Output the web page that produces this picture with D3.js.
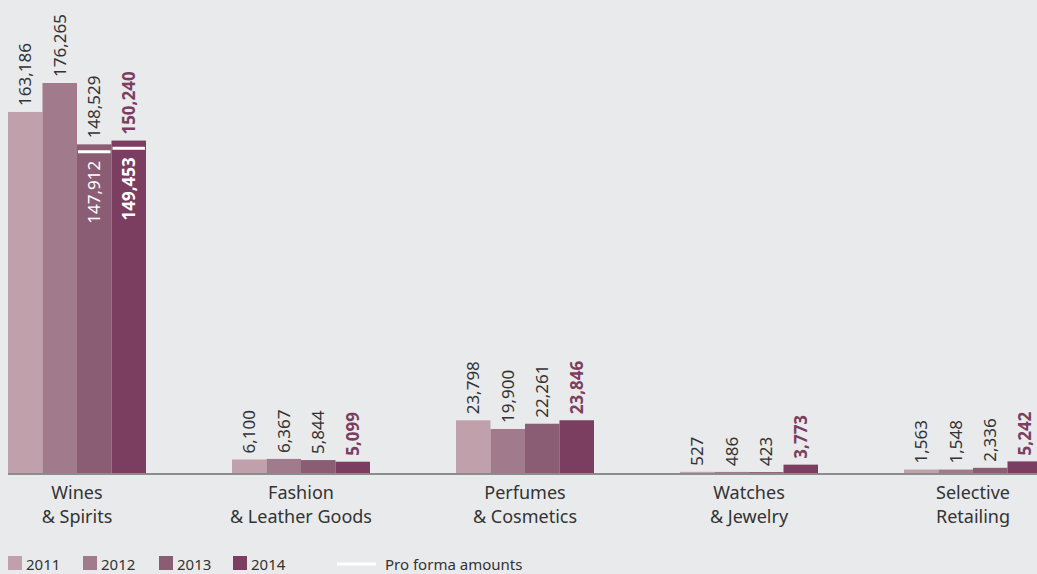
<!DOCTYPE html>
<html>
<head>
<meta charset="utf-8">
<script src="https://cdn.jsdelivr.net/npm/d3@7"></script>
<style>
  html, body { margin: 0; padding: 0; background: #e9eaec; }
  svg { display: block; font-family: 'Noto Sans', sans-serif; }
</style>
</head>
<body>
<div id="chart"></div>
<script>
'use strict';

var categories = [['Wines', '& Spirits'], ['Fashion', '& Leather Goods'], ['Perfumes', '& Cosmetics'], ['Watches', '& Jewelry'], ['Selective', 'Retailing']];
var years = ['2011', '2012', '2013', '2014'];
var values2011 = [163186, 6100, 23798, 527, 1563];
var values2012 = [176265, 6367, 19900, 486, 1548];
var values2013 = [148529, 5844, 22261, 423, 2336];
var values2014 = [150240, 5099, 23846, 3773, 5242];
var proForma2013 = [147912, null, null, null, null];
var proForma2014 = [149453, null, null, null, null];
var colors = ['#c0a0ab', '#a17b8b', '#8b5d75', '#7b3d60'];

var width = 1037, height = 574;
var base = 473;

var series = [values2011, values2012, values2013, values2014];
var proForma = [null, null, proForma2013, proForma2014];

var rows = [];
categories.forEach(function(c, i) {
  years.forEach(function(yr, j) {
    rows.push({cat: i, year: yr, k: j, v: series[j][i], pf: proForma[j] ? proForma[j][i] : null});
  });
});

var svg = d3.select('#chart').append('svg')
  .attr('width', width).attr('height', height);

var x0 = d3.scaleBand().domain(d3.range(categories.length))
  .range([8, 1042]).paddingInner(0.384).paddingOuter(0);
var x1 = d3.scaleBand().domain(years).range([0, x0.bandwidth()]);
var y = d3.scaleLinear().domain([0, 176265]).range([base, 83]);
var fmt = d3.format(',');

// baseline
svg.append('line')
  .attr('x1', 8).attr('x2', width)
  .attr('y1', base + 1).attr('y2', base + 1)
  .attr('stroke', '#8c8c8c').attr('stroke-width', 2);

var g = svg.append('g');

g.selectAll('rect.bar').data(rows).enter().append('rect')
  .attr('class', 'bar')
  .attr('x', function(d) { return x0(d.cat) + x1(d.year); })
  .attr('width', x1.bandwidth())
  .attr('y', function(d) { return y(d.v); })
  .attr('height', function(d) { return base - y(d.v); })
  .attr('fill', function(d) { return colors[d.k]; });

// value labels above bars
g.selectAll('text.val').data(rows).enter().append('text')
  .attr('class', 'val')
  .attr('transform', function(d) {
    return 'translate(' + (x0(d.cat) + x1(d.year) + x1.bandwidth() / 2) + ',' + (y(d.v) - 6) + ') rotate(-90)';
  })
  .attr('dy', '0.35em')
  .attr('font-size', 17)
  .attr('font-weight', function(d) { return d.k === 3 ? 700 : 400; })
  .attr('fill', function(d) { return d.k === 3 ? colors[3] : '#333'; })
  .text(function(d) { return fmt(d.v); });

// pro forma markers
var pf = rows.filter(function(d) { return d.pf; });
g.selectAll('line.pf').data(pf).enter().append('line')
  .attr('class', 'pf')
  .attr('x1', function(d) { return x0(d.cat) + x1(d.year) + 1; })
  .attr('x2', function(d) { return x0(d.cat) + x1(d.year) + x1.bandwidth() - 1; })
  .attr('y1', function(d) { return y(d.pf) + 6; })
  .attr('y2', function(d) { return y(d.pf) + 6; })
  .attr('stroke', '#fff').attr('stroke-width', 3);

g.selectAll('text.pf').data(pf).enter().append('text')
  .attr('class', 'pf')
  .attr('transform', function(d) {
    return 'translate(' + (x0(d.cat) + x1(d.year) + x1.bandwidth() / 2) + ',' + (y(d.pf) + 15) + ') rotate(-90)';
  })
  .attr('dy', '0.35em')
  .attr('text-anchor', 'end')
  .attr('font-size', 17)
  .attr('font-weight', function(d) { return d.k === 3 ? 700 : 400; })
  .attr('fill', '#fff')
  .text(function(d) { return fmt(d.pf); });

// category labels
var cl = svg.selectAll('text.cat').data(categories).enter().append('text')
  .attr('class', 'cat')
  .attr('text-anchor', 'middle')
  .attr('font-size', 18)
  .attr('fill', '#333');
cl.append('tspan')
  .attr('x', function(d, i) { return x0(i) + x0.bandwidth() / 2; })
  .attr('y', 499)
  .text(function(d) { return d[0]; });
cl.append('tspan')
  .attr('x', function(d, i) { return x0(i) + x0.bandwidth() / 2; })
  .attr('y', 523)
  .text(function(d) { return d[1]; });

// legend
var legX = [8, 83, 159, 233];
var leg = svg.selectAll('g.leg').data(years).enter().append('g')
  .attr('class', 'leg')
  .attr('transform', function(d, i) { return 'translate(' + legX[i] + ',556)'; });
leg.append('rect').attr('width', 14).attr('height', 14)
  .attr('fill', function(d, i) { return colors[i]; });
leg.append('text').attr('x', 18).attr('y', 13.5)
  .attr('font-size', 15).attr('fill', '#333')
  .text(function(d) { return d; });

svg.append('line')
  .attr('x1', 337).attr('x2', 376).attr('y1', 564).attr('y2', 564)
  .attr('stroke', '#fff').attr('stroke-width', 3);
svg.append('text').attr('x', 385).attr('y', 569.5)
  .attr('font-size', 15).attr('fill', '#333')
  .text('Pro forma amounts');
</script>
</body>
</html>
